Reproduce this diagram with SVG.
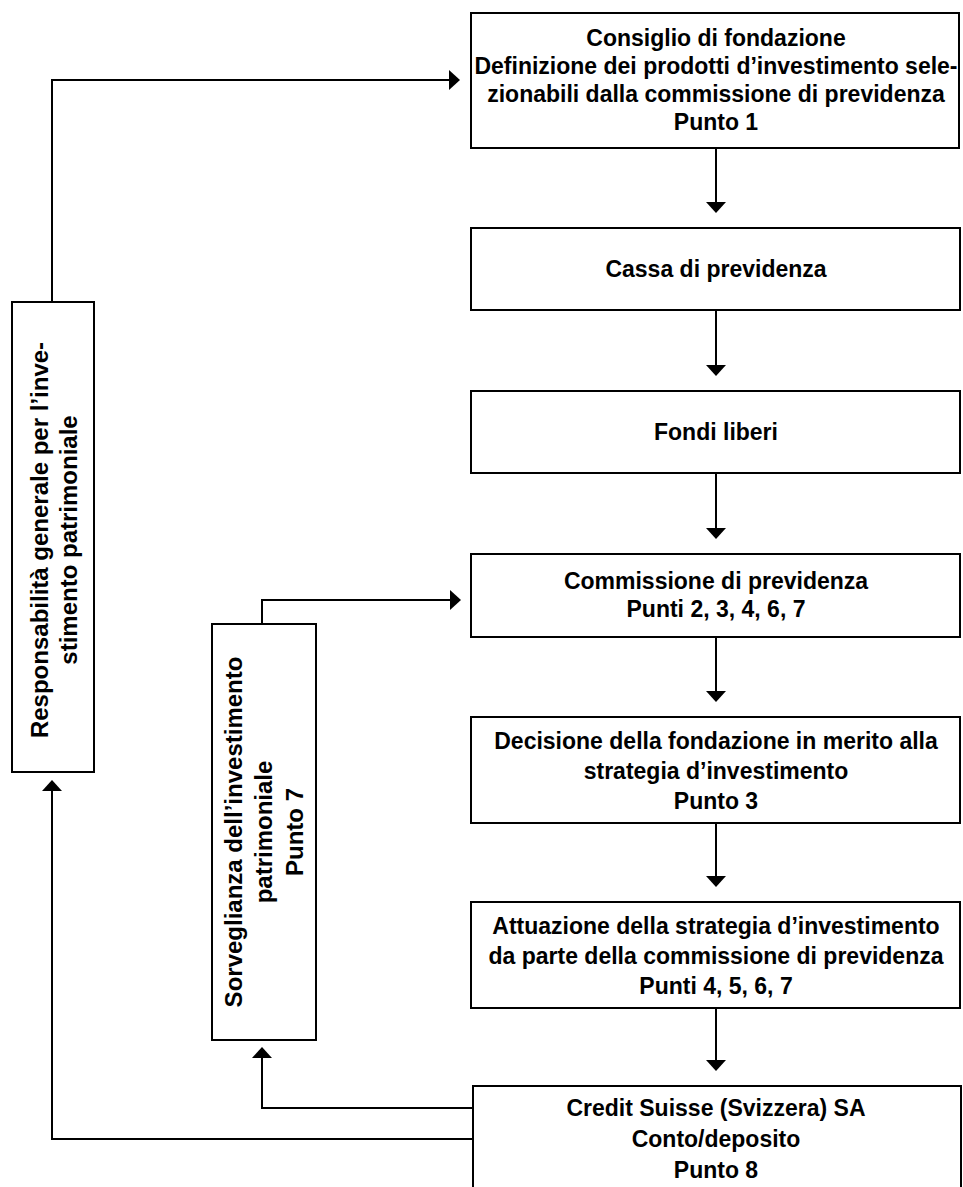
<svg xmlns="http://www.w3.org/2000/svg" width="963" height="1187" viewBox="0 0 963 1187">
<style>
.box{fill:#fff;stroke:#000;stroke-width:2}
.t{font-family:"Liberation Sans",Arial,sans-serif;font-weight:bold;font-size:23px;fill:#000;text-anchor:middle}
.r{font-size:24px}
.c{fill:none;stroke:#000;stroke-width:2}
</style>
<defs>
<marker id="ah" viewBox="0 0 11 20" refX="0" refY="10" markerWidth="11" markerHeight="20" markerUnits="userSpaceOnUse" orient="auto">
<path d="M0,0 L11,10 L0,20 z" fill="#000"/>
</marker>
</defs>
<rect width="963" height="1187" fill="#fff"/>
<g id="connectors">
<path class="c" d="M716,148 V202" marker-end="url(#ah)"/>
<path class="c" d="M716,310 V365" marker-end="url(#ah)"/>
<path class="c" d="M716,473 V528" marker-end="url(#ah)"/>
<path class="c" d="M716,637 V691" marker-end="url(#ah)"/>
<path class="c" d="M716,823 V876" marker-end="url(#ah)"/>
<path class="c" d="M716,1008 V1060" marker-end="url(#ah)"/>
<path class="c" d="M52,302 V80 H449" marker-end="url(#ah)"/>
<path class="c" d="M262,624 V600 H450" marker-end="url(#ah)"/>
<path class="c" d="M473,1108 H262 V1058" marker-end="url(#ah)"/>
<path class="c" d="M473,1139 H52 V791" marker-end="url(#ah)"/>
</g>
<g id="n1">
<rect class="box" x="471" y="13" width="488" height="135"/>
<text class="t" x="716" y="46">Consiglio di fondazione</text>
<text class="t" x="716" y="74">Definizione dei prodotti d’investimento sele-</text>
<text class="t" x="716" y="102">zionabili dalla commissione di previdenza</text>
<text class="t" x="716" y="130">Punto 1</text>
</g>
<g id="n2">
<rect class="box" x="471" y="228" width="489" height="82"/>
<text class="t" x="716" y="277">Cassa di previdenza</text>
</g>
<g id="n3">
<rect class="box" x="471" y="391" width="489" height="82"/>
<text class="t" x="716" y="440">Fondi liberi</text>
</g>
<g id="n4">
<rect class="box" x="471" y="554" width="489" height="83"/>
<text class="t" x="716" y="589">Commissione di previdenza</text>
<text class="t" x="716" y="617">Punti 2, 3, 4, 6, 7</text>
</g>
<g id="n5">
<rect class="box" x="471" y="717" width="489" height="106"/>
<text class="t" x="716" y="749">Decisione della fondazione in merito alla</text>
<text class="t" x="716" y="779">strategia d’investimento</text>
<text class="t" x="716" y="809">Punto 3</text>
</g>
<g id="n6">
<rect class="box" x="471" y="902" width="489" height="106"/>
<text class="t" x="716" y="934">Attuazione della strategia d’investimento</text>
<text class="t" x="716" y="964">da parte della commissione di previdenza</text>
<text class="t" x="716" y="994">Punti 4, 5, 6, 7</text>
</g>
<g id="n7">
<rect class="box" x="473" y="1086" width="488" height="130"/>
<text class="t" x="716" y="1116">Credit Suisse (Svizzera) SA</text>
<text class="t" x="716" y="1147">Conto/deposito</text>
<text class="t" x="716" y="1178">Punto 8</text>
</g>
<g id="n8">
<rect class="box" x="12" y="302" width="82" height="470"/>
<g transform="translate(53,540) rotate(-90)">
<text class="t r" x="0" y="-5">Responsabilità generale per l’inve-</text>
<text class="t r" x="0" y="24">stimento patrimoniale</text>
</g>
</g>
<g id="n9">
<rect class="box" x="212" y="624" width="104" height="416"/>
<g transform="translate(264,832) rotate(-90)">
<text class="t r" x="0" y="-22">Sorveglianza dell’investimento</text>
<text class="t r" x="0" y="8">patrimoniale</text>
<text class="t r" x="0" y="39">Punto 7</text>
</g>
</g>
</svg>
